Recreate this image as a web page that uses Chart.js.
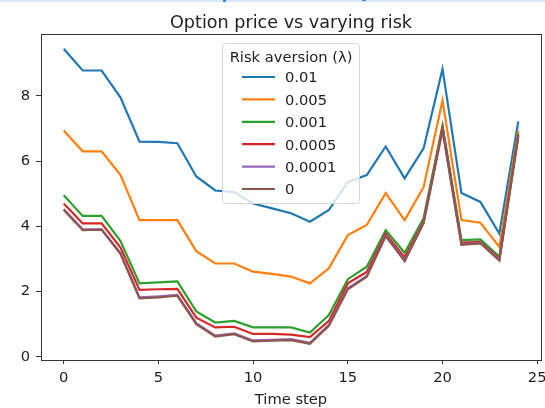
<!DOCTYPE html>
<html>
<head>
<meta charset="utf-8">
<script src="https://cdn.jsdelivr.net/npm/chart.js@4"></script>
<style>
  html, body { margin: 0; padding: 0; background: #fff; }
  #wrap { position: relative; width: 545px; height: 408px; }
</style>
</head>
<body>
<div id="wrap"><canvas id="c" width="545" height="408"></canvas></div>
<script>
"use strict";
// time steps and option prices for each risk aversion level
var steps = [0,1,2,3,4,5,6,7,8,9,10,11,12,13,14,15,16,17,18,19,20,21,22,23,24];
var lambdas = ["0.01", "0.005", "0.001", "0.0005", "0.0001", "0"];
var lam01   = [9.45,8.78,8.78,7.95,6.60,6.59,6.55,5.53,5.10,5.05,4.70,4.55,4.40,4.14,4.50,5.36,5.57,6.45,5.47,6.39,8.83,5.02,4.75,3.78,7.22];
var lam005  = [6.94,6.30,6.30,5.57,4.19,4.19,4.19,3.24,2.86,2.86,2.61,2.54,2.46,2.25,2.71,3.73,4.04,5.02,4.19,5.20,7.86,4.19,4.11,3.37,6.94];
var lam001  = [4.95,4.32,4.32,3.55,2.25,2.28,2.31,1.39,1.05,1.10,0.90,0.90,0.90,0.74,1.28,2.38,2.76,3.88,3.19,4.25,7.09,3.58,3.60,3.07,6.85];
var lam0005 = [4.70,4.09,4.09,3.35,2.05,2.07,2.08,1.20,0.90,0.92,0.70,0.70,0.68,0.60,1.10,2.25,2.60,3.78,3.05,4.15,7.05,3.50,3.52,3.00,6.80];
var lam0001 = [4.53,3.91,3.91,3.18,1.82,1.85,1.90,1.03,0.65,0.72,0.50,0.52,0.54,0.43,0.98,2.10,2.48,3.72,2.96,4.12,6.97,3.45,3.50,2.97,6.77];
var lam0    = [4.50,3.88,3.90,3.15,1.79,1.82,1.87,1.00,0.62,0.69,0.47,0.49,0.51,0.40,0.95,2.07,2.45,3.70,2.93,4.10,6.95,3.43,3.48,2.95,6.75];
var xTicks = [0, 5, 10, 15, 20, 25];
var yTicks = [0, 2, 4, 6, 8];

var colors = ["#1f77b4", "#ff7f0e", "#2ca02c", "#d62728", "#9467bd", "#8c564b"];
var series = [lam01, lam005, lam001, lam0005, lam0001, lam0];
var FONT = "'DejaVu Sans', sans-serif";
var LW = 2.2;

var datasets = series.map(function(s, i) {
    return {
        label: lambdas[i],
        data: s.map(function(v, j) { return {x: steps[j], y: v}; }),
        borderColor: colors[i],
        backgroundColor: colors[i],
        borderWidth: LW,
        pointRadius: 0,
        tension: 0,
        order: series.length - i   // later series on top, like matplotlib
    };
});

// frame, titles and legend box
var decor = {
    id: "decor",
    beforeDraw: function(chart) {
        // strip left over from the screenshot at the very top
        var ctx = chart.ctx;
        ctx.save();
        ctx.fillStyle = "#dce9f7";
        ctx.fillRect(0, 0, 545, 2);
        ctx.fillStyle = "#3d86d6";
        ctx.fillRect(223, 0, 3, 2);
        ctx.fillRect(362, 0, 4, 1);
        ctx.restore();
    },
    afterDraw: function(chart) {
        var ctx = chart.ctx, a = chart.chartArea;
        var cx = (a.left + a.right) / 2;
        ctx.save();
        ctx.strokeStyle = "#333";
        ctx.lineWidth = 1;
        ctx.strokeRect(Math.round(a.left) + 0.5, Math.round(a.top) + 0.5,
                       Math.round(a.right - a.left), Math.round(a.bottom - a.top));

        ctx.fillStyle = "#222";
        ctx.textAlign = "center";
        ctx.textBaseline = "alphabetic";
        ctx.font = "17.6px " + FONT;
        ctx.fillText("Option price vs varying risk", cx, 27.5);
        ctx.font = "14.7px " + FONT;
        ctx.fillText("Time step", cx, 404);

        // legend
        var lx = 222, ly = 43, lw = 137, lh = 160;
        ctx.beginPath();
        ctx.roundRect(lx + 0.5, ly + 0.5, lw, lh, 3);
        ctx.fillStyle = "rgba(255,255,255,0.8)";
        ctx.fill();
        ctx.strokeStyle = "#d6d6d6";
        ctx.lineWidth = 1;
        ctx.stroke();
        ctx.fillStyle = "#222";
        ctx.fillText("Risk aversion (\u03bb)", lx + lw / 2 + 0.5, 61.5);
        ctx.textAlign = "left";
        for (var i = 0; i < lambdas.length; i++) {
            var y = 77 + i * 22.4;
            ctx.strokeStyle = colors[i];
            ctx.lineWidth = LW;
            ctx.beginPath();
            ctx.moveTo(242, y);
            ctx.lineTo(275, y);
            ctx.stroke();
            ctx.fillText(lambdas[i], 285, y + 5.3);
        }
        ctx.restore();
    }
};

new Chart(document.getElementById("c").getContext("2d"), {
    type: "line",
    data: { datasets: datasets },
    options: {
        responsive: false,
        animation: false,
        layout: { padding: { top: 34, right: 4, left: 0, bottom: 0 } },
        plugins: { legend: { display: false }, tooltip: { enabled: false } },
        scales: {
            x: {
                type: "linear",
                min: -1.2,
                max: 25.2,
                afterBuildTicks: function(s) { s.ticks = xTicks.map(function(v) { return {value: v}; }); },
                afterFit: function(s) { s.height = 48; s.paddingLeft = 0; s.paddingRight = 0; },
                grid: { drawOnChartArea: false, drawTicks: true, tickLength: 4, tickColor: "#333" },
                border: { display: false },
                ticks: { color: "#222", padding: 5, maxRotation: 0, font: { family: FONT, size: 14.7 } }
            },
            y: {
                min: -0.1,
                max: 9.9,
                afterBuildTicks: function(s) { s.ticks = yTicks.map(function(v) { return {value: v}; }); },
                afterFit: function(s) { s.width = 41; s.paddingTop = 0; s.paddingBottom = 0; },
                grid: { drawOnChartArea: false, drawTicks: true, tickLength: 5, tickColor: "#333" },
                border: { display: false },
                ticks: { color: "#222", padding: 6, font: { family: FONT, size: 14.7 } }
            }
        }
    },
    plugins: [decor]
});
</script>
</body>
</html>
